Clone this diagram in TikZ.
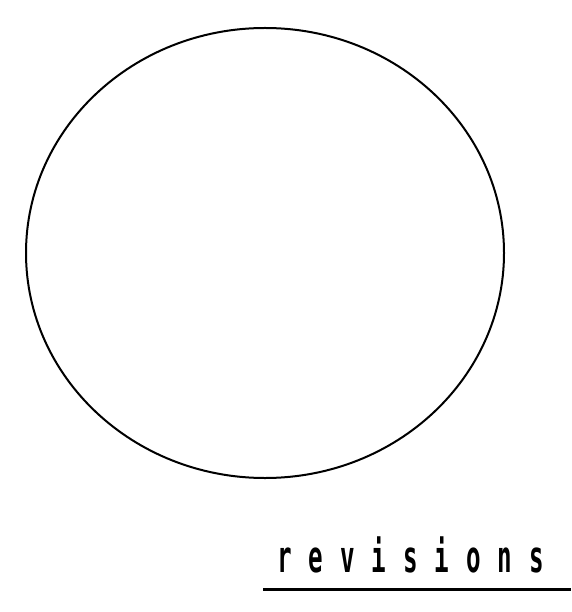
\documentclass[tikz,border=0pt]{standalone}
\usepackage{fontspec}
\usetikzlibrary{shapes.geometric}
\newfontfamily\revfont[LetterSpace=70]{DejaVu Sans Mono Bold}
\tikzset{
  disco/.style = {ellipse, draw, line width=2pt, minimum width=478pt, minimum height=450pt, inner sep=0},
  riga/.style  = {line width=3pt},
  et/.style    = {inner sep=0, anchor=base west, font=\revfont\fontsize{44}{44}\selectfont}
}
\begin{document}
\begin{tikzpicture}[x=1pt, y=-1pt]

  \useasboundingbox (0,0) rectangle (571,612);

  % cerchio
  \node[disco] (cerchio) at (265,253) {};

  % etichetta
  \node[et] (rev) at (277,572) {\scalebox{0.55}[1]{revisions}};
  \coordinate (sx) at (263,589); \coordinate (dx) at (571,589);
  \draw[riga] (sx) -- (dx);

\end{tikzpicture}
\end{document}
